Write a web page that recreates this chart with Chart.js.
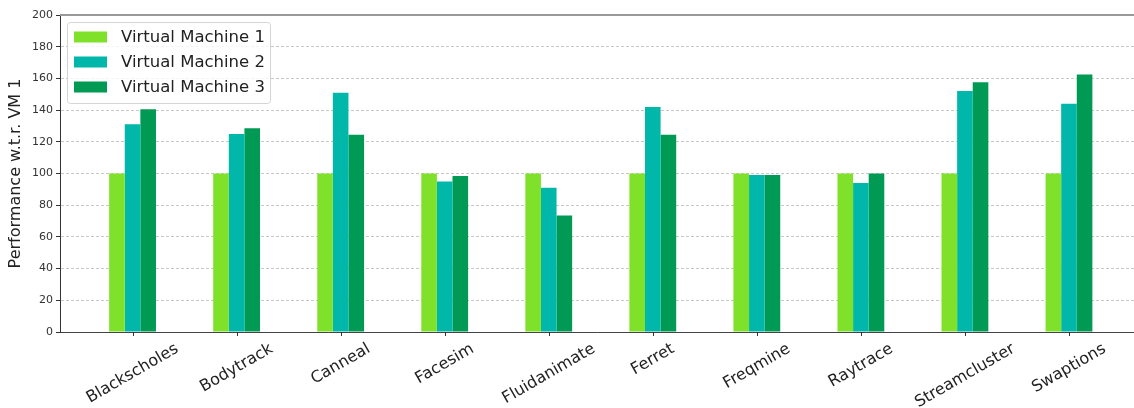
<!DOCTYPE html>
<html>
<head>
<meta charset="utf-8">
<script src="https://cdn.jsdelivr.net/npm/chart.js@4/dist/chart.umd.min.js"></script>
<style>
  body { margin: 0; background: #fff; }
  canvas { display: block; }
</style>
</head>
<body>
<canvas id="perfChart" width="1134" height="408"></canvas>
<script>
const benchmarks = ['Blackscholes', 'Bodytrack', 'Canneal', 'Facesim', 'Fluidanimate',
                    'Ferret', 'Freqmine', 'Raytrace', 'Streamcluster', 'Swaptions'];
const vm1 = [100, 100, 100, 100, 100, 100, 100, 100, 100, 100];
const vm2 = [131, 125, 151, 95, 91, 142, 99, 94, 152, 144];
const vm3 = [140.5, 128.5, 124.5, 98.5, 73.5, 124.5, 99, 100, 157.5, 162.5];
const yTicks = [0, 20, 40, 60, 80, 100, 120, 140, 160, 180, 200];

const seriesNames = ['Virtual Machine 1', 'Virtual Machine 2', 'Virtual Machine 3'];
const seriesColors = ['#80e12a', '#00b7aa', '#009a55'];
const FONT = '"DejaVu Sans", sans-serif';

function points(values) {
    return values.map((v, i) => ({ x: i, y: v }));
}

// x tick marks and rotated labels, centred under each tick
const xLabels = {
    id: 'xLabels',
    afterDraw(chart) {
        const ctx = chart.ctx;
        const xs = chart.scales.x;
        const bottom = chart.chartArea.bottom;
        const top = bottom + 8;
        const ang = 30 * Math.PI / 180;
        ctx.save();
        ctx.strokeStyle = '#333';
        ctx.lineWidth = 1;
        benchmarks.forEach((_, i) => {
            const px = Math.round(xs.getPixelForValue(i)) + 0.5;
            ctx.beginPath();
            ctx.moveTo(px, bottom);
            ctx.lineTo(px, bottom + 4);
            ctx.stroke();
        });
        ctx.font = '16px ' + FONT;
        ctx.fillStyle = '#222';
        ctx.textAlign = 'center';
        ctx.textBaseline = 'middle';
        benchmarks.forEach((name, i) => {
            const w = ctx.measureText(name).width;
            const h = 18;
            const bh = w * Math.sin(ang) + h * Math.cos(ang);
            ctx.save();
            ctx.translate(xs.getPixelForValue(i), top + bh / 2);
            ctx.rotate(-ang);
            ctx.fillText(name, 0, 0);
            ctx.restore();
        });
        ctx.restore();
    }
};

// top spine + legend box in the upper left corner
const frameAndLegend = {
    id: 'frameAndLegend',
    afterDatasetsDraw(chart) {
        const ctx = chart.ctx;
        const a = chart.chartArea;
        ctx.save();
        ctx.strokeStyle = '#999';
        ctx.lineWidth = 2;
        ctx.beginPath();
        ctx.moveTo(a.left, a.top);
        ctx.lineTo(a.right, a.top);
        ctx.stroke();

        ctx.fillStyle = 'rgba(255,255,255,0.8)';
        ctx.strokeStyle = '#d4d4d4';
        ctx.lineWidth = 1;
        ctx.beginPath();
        ctx.roundRect(67.5, 22.5, 203, 81, 3);
        ctx.fill();
        ctx.stroke();

        ctx.font = '16.5px ' + FONT;
        ctx.textBaseline = 'middle';
        chart.data.datasets.forEach((ds, i) => {
            const cy = 37 + i * 25;
            ctx.fillStyle = ds.backgroundColor;
            ctx.fillRect(74, cy - 5.5, 33, 11);
            ctx.fillStyle = '#222';
            ctx.fillText(ds.label, 121, cy + 1);
        });
        ctx.restore();
    }
};

new Chart(document.getElementById('perfChart'), {
    type: 'bar',
    data: {
        datasets: [vm1, vm2, vm3].map((vals, i) => ({
            label: seriesNames[i],
            data: points(vals),
            backgroundColor: seriesColors[i],
            borderWidth: 0,
            categoryPercentage: 0.45,
            barPercentage: 1.0
        }))
    },
    options: {
        responsive: false,
        animation: false,
        layout: { padding: { top: 15, right: 0, bottom: 0, left: 0 } },
        plugins: {
            legend: { display: false },
            tooltip: { enabled: false }
        },
        scales: {
            x: {
                type: 'linear',
                min: -0.6975,
                max: 9.625,
                offset: false,
                afterBuildTicks: (s) => { s.ticks = benchmarks.map((_, i) => ({ value: i })); },
                afterFit: (s) => { s.height = 76; },
                ticks: { display: false },
                grid: { display: false },
                border: { display: true, color: '#444', width: 1 }
            },
            y: {
                min: 0,
                max: 200,
                afterBuildTicks: (s) => { s.ticks = yTicks.map(v => ({ value: v })); },
                afterFit: (s) => { s.width = 60; },
                ticks: {
                    font: { family: FONT, size: 11 },
                    color: '#333',
                    padding: 3
                },
                grid: {
                    color: '#c8c8c8',
                    tickLength: 4,
                    tickColor: '#333',
                    tickBorderDash: []
                },
                border: { display: true, color: '#333', width: 1, dash: [3, 2] },
                title: {
                    display: true,
                    text: 'Performance w.t.r. VM 1',
                    font: { family: FONT, size: 16 },
                    color: '#222',
                    padding: { top: 6, bottom: 0 }
                }
            }
        }
    },
    plugins: [xLabels, frameAndLegend]
});
</script>
</body>
</html>
